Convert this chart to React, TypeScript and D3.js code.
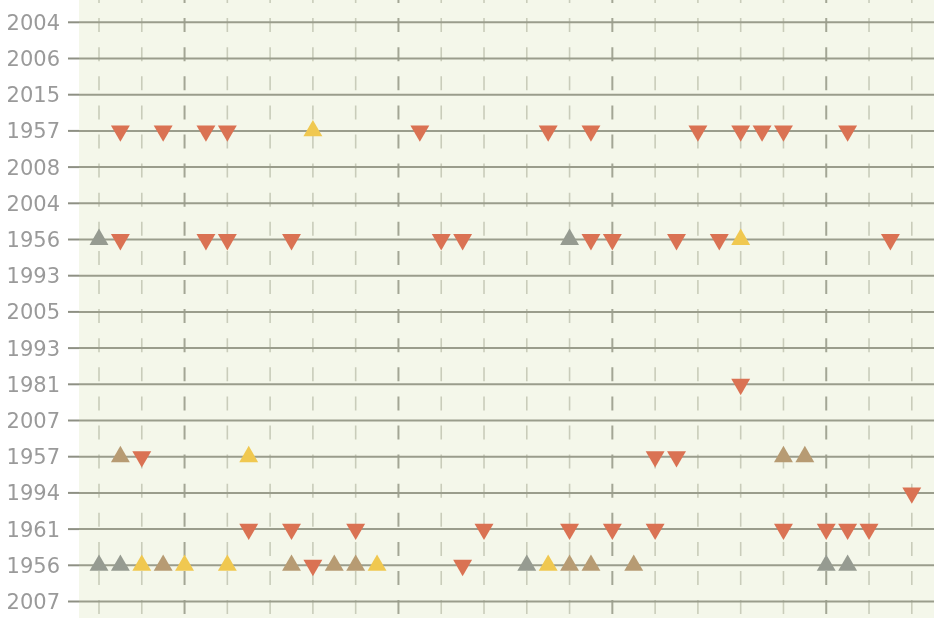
import * as d3 from 'd3';

const rowLabels = ['2004', '2006', '2015', '1957', '2008', '2004', '1956', '1993', '2005', '1993', '1981', '2007', '1957', '1994', '1961', '1956', '2007'];

// [row index, position]
const redDown: [number, number][] = [
  [3, 1], [3, 3], [3, 5], [3, 6], [3, 15], [3, 21], [3, 23], [3, 28], [3, 30], [3, 31], [3, 32], [3, 35],
  [6, 1], [6, 5], [6, 6], [6, 9], [6, 16], [6, 17], [6, 23], [6, 24], [6, 27], [6, 29], [6, 37],
  [10, 30],
  [12, 2], [12, 26], [12, 27],
  [13, 38],
  [14, 7], [14, 9], [14, 12], [14, 18], [14, 22], [14, 24], [14, 26], [14, 32], [14, 34], [14, 35], [14, 36],
  [15, 10], [15, 17],
];
const yellowUp: [number, number][] = [[3, 10], [6, 30], [12, 7], [15, 2], [15, 4], [15, 6], [15, 13], [15, 21]];
const grayUp: [number, number][] = [[6, 0], [6, 22], [15, 0], [15, 1], [15, 20], [15, 34], [15, 35]];
const tanUp: [number, number][] = [[12, 1], [12, 32], [12, 33], [15, 3], [15, 9], [15, 11], [15, 12], [15, 22], [15, 23], [15, 25]];

const gridTicks = d3.range(0, 42, 2);

const series = [
  { data: redDown, color: '#da7253', down: true },
  { data: yellowUp, color: '#f0c850', down: false },
  { data: grayUp, color: '#969b91', down: false },
  { data: tanUp, color: '#b79b73', down: false },
];

export default function App() {
  const width = 934;
  const height = 618;
  const x = d3.scaleLinear().domain([0, 38]).range([99, 911.8]);
  const y = d3.scalePoint<number>().domain(d3.range(rowLabels.length)).range([22.3, 601.5]);
  const left = x(0) - 20;
  const tri = d3.symbol(d3.symbolTriangle, 155)() || '';

  return (
    <div style={{ position: 'fixed', left: 0, top: 0 }}>
      <svg width={width} height={height} style={{ display: 'block' }}>
        <rect x={left} y={0} width={width - left} height={height} fill="#f4f7ea" />
        {gridTicks.map((t) => {
          const major = t % 10 === 4;
          return (
            <line
              key={t}
              x1={x(t)}
              x2={x(t)}
              y1={-11}
              y2={height}
              stroke={major ? '#a3a695' : '#c9ccba'}
              strokeWidth={major ? 2 : 1.6}
              strokeDasharray="14 15.1"
            />
          );
        })}
        {rowLabels.map((label, i) => (
          <g key={i} transform={`translate(0,${y(i)})`}>
            <line x1={68} x2={left} stroke="#8e9084" strokeWidth={2} />
            <line x1={left} x2={width} stroke="#9a9d8c" strokeWidth={2} />
            <text
              x={60}
              dy="0.36em"
              textAnchor="end"
              fontFamily="DejaVu Sans"
              fontSize={21}
              fill="#9a9a9a"
            >
              {label}
            </text>
          </g>
        ))}
        {series.map((s, si) =>
          s.data.map(([row, pos], i) => (
            <path
              key={`${si}-${i}`}
              d={tri}
              fill={s.color}
              transform={`translate(${x(pos)},${y(row)})${s.down ? ' rotate(180)' : ''}`}
            />
          )),
        )}
      </svg>
    </div>
  );
}
